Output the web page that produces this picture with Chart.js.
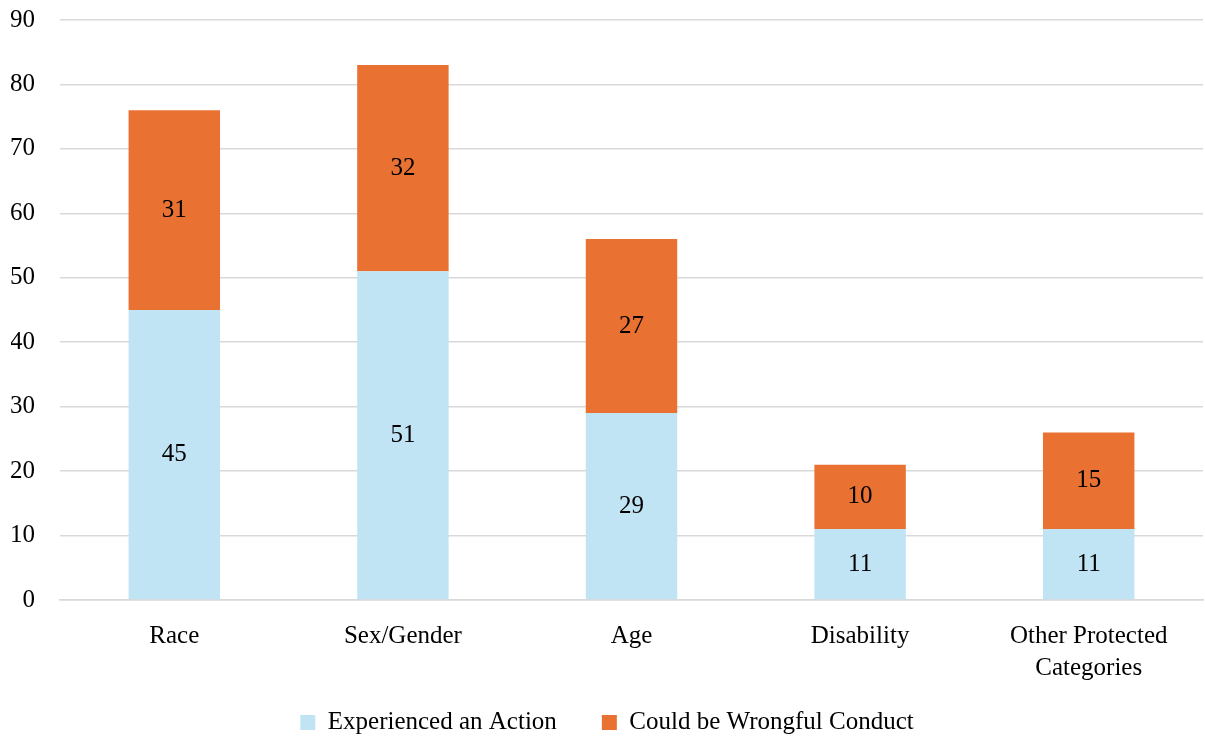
<!DOCTYPE html>
<html>
<head>
<meta charset="utf-8">
<script src="https://cdn.jsdelivr.net/npm/chart.js@4"></script>
<style>
  html, body { margin: 0; padding: 0; background: #fff; }
  #wrap { width: 1205px; height: 737px; }
</style>
</head>
<body>
<div id="wrap"><canvas id="chart"></canvas></div>
<script>
// Categories and values
const categories = ["Race", "Sex/Gender", "Age", "Disability", ["Other Protected", "Categories"]];
const experienced = [45, 51, 29, 11, 11];
const wrongful = [31, 32, 27, 10, 15];
const seriesNames = ["Experienced an Action", "Could be Wrongful Conduct"];
const yTicks = [0, 10, 20, 30, 40, 50, 60, 70, 80, 90];

const FONT = "'Liberation Serif', 'Times New Roman', serif";
const SIZE = 25;

// draws the number in the middle of each bar segment
const barLabels = {
    id: "barLabels",
    afterDatasetsDraw(chart) {
        const ctx = chart.ctx;
        ctx.save();
        ctx.font = SIZE + "px " + FONT;
        ctx.fillStyle = "#000";
        ctx.textAlign = "center";
        ctx.textBaseline = "middle";
        chart.data.datasets.forEach((ds, i) => {
            chart.getDatasetMeta(i).data.forEach((bar, j) => {
                const y = (bar.y + bar.base) / 2;
                ctx.fillText(ds.data[j], bar.x, y);
            });
        });
        ctx.restore();
    }
};

new Chart(document.getElementById("chart"), {
    type: "bar",
    data: {
        labels: categories,
        datasets: [{
            label: seriesNames[0],
            data: experienced,
            backgroundColor: "#C1E4F5",
            categoryPercentage: 0.4,
            barPercentage: 1
        }, {
            label: seriesNames[1],
            data: wrongful,
            backgroundColor: "#E97132",
            categoryPercentage: 0.4,
            barPercentage: 1
        }]
    },
    options: {
        responsive: true,
        maintainAspectRatio: false,
        animation: false,
        layout: { padding: { left: 11, right: 2, top: 0, bottom: -8 } },
        plugins: {
            legend: {
                position: "bottom",
                labels: {
                    font: { family: FONT, size: SIZE },
                    color: "#000",
                    boxWidth: 15,
                    boxHeight: 15,
                    padding: 45
                }
            },
            tooltip: { enabled: false }
        },
        scales: {
            x: {
                stacked: true,
                grid: { display: false },
                border: { color: "#d9d9d9", width: 1.5 },
                afterFit(axis) {
                    axis.height -= 32;
                    // the second line of the last label runs past the shortened axis box
                    axis._computeLabelArea = () => null;
                },
                ticks: {
                    font: { family: FONT, size: SIZE, lineHeight: 1.3 },
                    color: "#000",
                    maxRotation: 0,
                    padding: 12
                }
            },
            y: {
                stacked: true,
                min: 0,
                max: 90,
                afterBuildTicks(axis) {
                    axis.ticks = yTicks.map(v => ({ value: v }));
                },
                afterFit(axis) {
                    axis.width = 49;
                    axis.paddingTop = 20;
                    axis.paddingBottom = 0;
                },
                grid: { color: "#d9d9d9", lineWidth: 1.5, drawTicks: false },
                border: { display: false },
                ticks: {
                    font: { family: FONT, size: SIZE },
                    color: "#000",
                    padding: 25
                }
            }
        }
    },
    plugins: [barLabels]
});
</script>
</body>
</html>
